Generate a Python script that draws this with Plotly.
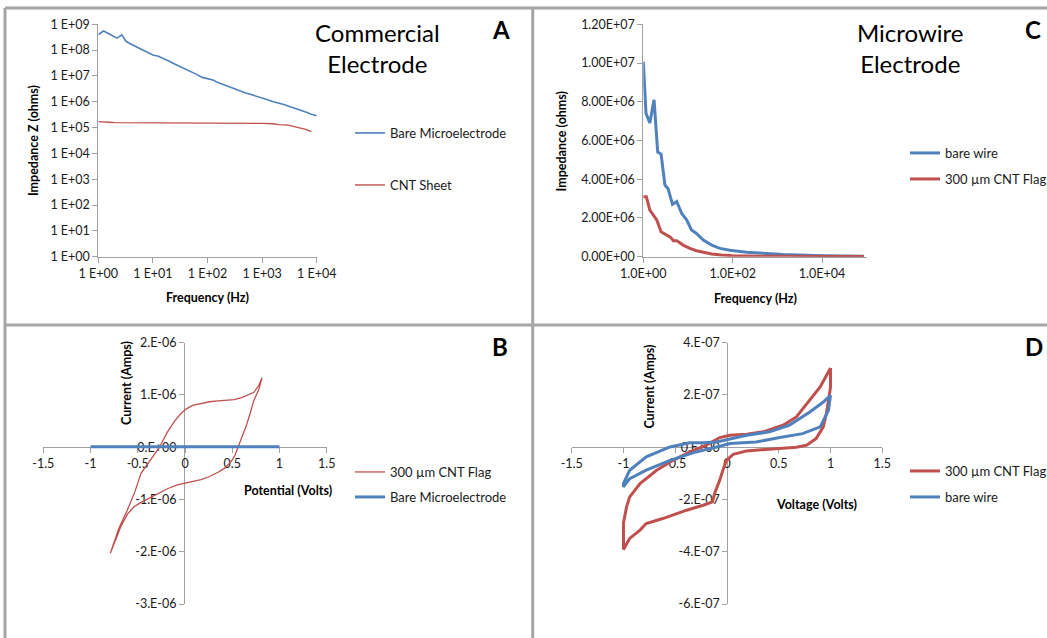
import plotly.graph_objects as go

W, H = 1047, 638
FONT = "Lato"
BLUE = "#4F81BD"
RED = "#C0504D"
AXC = "#A0A0A0"

def px(x):
    return x / W

def py(y):
    return 1 - y / H

# ---------------- Panel A data (Commercial electrode impedance) -------------
a_bare_freq = [1.0, 1.25, 1.6, 2.0, 2.2, 2.7, 3.2, 4.0, 5.0, 6.3, 8.0, 10, 12.6, 16, 20, 25, 32,
               40, 50, 63, 80, 100, 126, 160, 200, 250, 316, 400, 500, 630, 800, 1000, 1260,
               1600, 2000, 2500, 3160, 4000, 5000, 6300, 8000, 10000]
a_bare_z = [4.0e8, 5.5e8, 4.2e8, 3.3e8, 2.9e8, 3.9e8, 2.2e8, 1.7e8, 1.35e8, 1.1e8, 8.5e7, 6.5e7,
            5.8e7, 4.7e7, 3.7e7, 2.9e7, 2.3e7, 1.8e7, 1.45e7, 1.15e7, 8.8e6, 7.6e6, 7.0e6, 5.4e6,
            4.5e6, 3.7e6, 3.2e6, 2.7e6, 2.2e6, 1.9e6, 1.65e6, 1.4e6, 1.2e6, 1.0e6, 9.0e5, 7.8e5,
            6.5e5, 5.6e5, 4.8e5, 4.0e5, 3.3e5, 2.9e5]
a_cnt_freq = [1.0, 1.26, 1.6, 2.0, 3.0, 10, 100, 300, 500, 1000, 1600, 2000, 3000, 4000, 5000,
              6300, 8000]
a_cnt_z = [1.7e5, 1.7e5, 1.6e5, 1.55e5, 1.55e5, 1.55e5, 1.55e5, 1.55e5, 1.45e5, 1.45e5, 1.4e5,
           1.3e5, 1.25e5, 1.1e5, 1.0e5, 8.5e4, 7.0e4]
a_xticks = [1, 10, 100, 1000, 10000]
a_xtext = ["1 E+00", "1 E+01", "1 E+02", "1 E+03", "1 E+04"]
a_yticks = [1e0, 1e1, 1e2, 1e3, 1e4, 1e5, 1e6, 1e7, 1e8, 1e9]
a_ytext = ["1 E+00", "1 E+01", "1 E+02", "1 E+03", "1 E+04", "1 E+05", "1 E+06", "1 E+07",
           "1 E+08", "1 E+09"]

# ---------------- Panel C data (Microwire electrode impedance) --------------
c_bare_freq = [1.0, 1.15, 1.4, 1.74, 2.1, 2.5, 3.05, 3.6, 4.5, 5.6, 7.2, 9.3, 12, 15.5, 22, 34,
               52, 87, 204, 480, 1340, 10000, 87000]
c_bare_z = [10.07e6, 7.4e6, 6.9e6, 8.1e6, 5.4e6, 5.3e6, 3.7e6, 3.5e6, 2.7e6, 2.85e6, 2.24e6,
            1.9e6, 1.38e6, 1.2e6, 0.86e6, 0.6e6, 0.43e6, 0.33e6, 0.23e6, 0.17e6, 0.12e6, 0.05e6,
            0.02e6]
c_cnt_freq = [1.0, 1.17, 1.4, 2.0, 2.5, 3.3, 4.1, 4.7, 5.6, 7.8, 11, 15.5, 22, 34, 56, 100, 480,
              10000, 87000]
c_cnt_z = [3.1e6, 3.1e6, 2.4e6, 1.9e6, 1.29e6, 1.12e6, 1.0e6, 0.83e6, 0.83e6, 0.6e6, 0.43e6,
           0.31e6, 0.23e6, 0.14e6, 0.09e6, 0.05e6, 0.02e6, 0.01e6, 0.01e6]
c_xticks = [1, 100, 10000]
c_xtext = ["1.0E+00", "1.0E+02", "1.0E+04"]
c_yticks = [0, 2e6, 4e6, 6e6, 8e6, 10e6, 12e6]
c_ytext = ["0.00E+00", "2.00E+06", "4.00E+06", "6.00E+06", "8.00E+06", "1.00E+07", "1.20E+07"]

# ---------------- Panel B data (Commercial electrode CV) --------------------
b_cnt_v = [-0.79, -0.75, -0.70, -0.61, -0.53, -0.466, -0.37, -0.27, -0.19, -0.11, -0.05, 0.01,
           0.08, 0.17, 0.26, 0.35, 0.45, 0.52, 0.60, 0.66, 0.73, 0.78, 0.815,
           0.78, 0.73, 0.69, 0.645, 0.60, 0.565, 0.53, 0.49, 0.42, 0.35, 0.26, 0.17, 0.08, 0.01,
           -0.08, -0.18, -0.28, -0.39, -0.47, -0.54, -0.61, -0.68, -0.74, -0.79]
b_cnt_i = [-2.03e-6, -1.80e-6, -1.55e-6, -1.20e-6, -0.85e-6, -0.50e-6, -0.25e-6, 0.0, 0.28e-6,
           0.50e-6, 0.63e-6, 0.73e-6, 0.80e-6, 0.84e-6, 0.87e-6, 0.885e-6, 0.90e-6, 0.91e-6,
           0.95e-6, 0.99e-6, 1.05e-6, 1.18e-6, 1.33e-6,
           1.10e-6, 0.90e-6, 0.65e-6, 0.39e-6, 0.18e-6, 0.0, -0.15e-6, -0.27e-6, -0.40e-6,
           -0.48e-6, -0.56e-6, -0.62e-6, -0.66e-6, -0.69e-6, -0.72e-6, -0.79e-6, -0.88e-6,
           -0.98e-6, -1.06e-6, -1.14e-6, -1.28e-6, -1.52e-6, -1.78e-6, -2.03e-6]
b_bare_v = [-1.0, -0.5, 0.0, 0.5, 1.0]
b_bare_i = [0.01e-6, 0.01e-6, 0.01e-6, 0.01e-6, 0.01e-6]
b_xticks = [-1.5, -1, -0.5, 0, 0.5, 1, 1.5]
b_xtext = ["-1.5", "-1", "-0.5", "0", "0.5", "1", "1.5"]
b_yticks = [2e-6, 1e-6, 0, -1e-6, -2e-6, -3e-6]
b_ytext = ["2.E-06", "1.E-06", "0.E+00", "-1.E-06", "-2.E-06", "-3.E-06"]

# ---------------- Panel D data (Microwire electrode CV) ---------------------
d_cnt_v = [1.0, 1.0, 0.96, 0.93, 0.86, 0.77, 0.67, 0.35, 0.19, 0.06, -0.006, -0.04, -0.07, -0.12,
           -0.14, -0.23, -0.39, -0.62, -0.78, -0.84, -0.88, -0.94, -1.0, -1.0,
           -0.97, -0.94, -0.84, -0.68, -0.52, -0.36, -0.2, -0.07, 0.03, 0.19, 0.35, 0.54, 0.67,
           0.8, 0.9, 1.0]
d_cnt_i = [3.03e-7, 2.3e-7, 1.29e-7, 0.78e-7, 0.33e-7, 0.08e-7, 0.0, -0.09e-7, -0.14e-7,
           -0.27e-7, -0.5e-7, -0.88e-7, -1.26e-7, -1.77e-7, -2.09e-7, -2.22e-7, -2.41e-7,
           -2.73e-7, -2.92e-7, -3.17e-7, -3.3e-7, -3.49e-7, -3.91e-7, -2.9e-7,
           -2.28e-7, -1.9e-7, -1.39e-7, -0.88e-7, -0.5e-7, -0.18e-7, 0.08e-7, 0.37e-7, 0.46e-7,
           0.5e-7, 0.59e-7, 0.84e-7, 1.16e-7, 1.8e-7, 2.31e-7, 3.03e-7]
d_bare_v = [1.0, 0.98, 0.9, 0.73, 0.51, 0.28, 0.15, 0.03, -0.1, -0.3, -0.55, -0.78, -0.94, -1.0,
            -1.0, -0.94, -0.78, -0.55, -0.36, -0.23, -0.1, 0.03, 0.19, 0.41, 0.6, 0.8, 0.93, 1.0]
d_bare_i = [1.99e-7, 1.41e-7, 0.78e-7, 0.52e-7, 0.37e-7, 0.2e-7, 0.17e-7, 0.14e-7, 0.01e-7,
            -0.18e-7, -0.5e-7, -0.88e-7, -1.2e-7, -1.52e-7,
            -1.39e-7, -0.88e-7, -0.37e-7, 0.01e-7, 0.17e-7, 0.17e-7, 0.2e-7, 0.33e-7, 0.46e-7,
            0.59e-7, 0.84e-7, 1.35e-7, 1.73e-7, 1.99e-7]
d_xticks = [-1.5, -1, -0.5, 0, 0.5, 1, 1.5]
d_xtext = ["-1.5", "-1", "-0.5", "0", "0.5", "1", "1.5"]
d_yticks = [4e-7, 2e-7, 0, -2e-7, -4e-7, -6e-7]
d_ytext = ["4.E-07", "2.E-07", "0.E+00", "-2.E-07", "-4.E-07", "-6.E-07"]

fig = go.Figure()

def line(x, y, name, color, width, xa, ya, legend):
    fig.add_trace(go.Scatter(x=x, y=y, name=name, mode="lines", showlegend=True,
                             line=dict(color=color, width=width),
                             xaxis=xa, yaxis=ya, legend=legend))

line(a_bare_freq, a_bare_z, "Bare Microelectrode", BLUE, 1.6, "x", "y", "legend")
line(a_cnt_freq, a_cnt_z, "CNT Sheet", RED, 1.4, "x", "y", "legend2")
line(c_bare_freq, c_bare_z, "bare wire", BLUE, 3, "x2", "y2", "legend3")
line(c_cnt_freq, c_cnt_z, "300 µm CNT Flag", RED, 3, "x2", "y2", "legend4")
line(b_cnt_v, b_cnt_i, "300 µm CNT Flag", RED, 1.3, "x3", "y3", "legend5")
line(b_bare_v, b_bare_i, "Bare Microelectrode", BLUE, 3, "x3", "y3", "legend6")
line(d_cnt_v, d_cnt_i, "300 µm CNT Flag", RED, 3, "x4", "y4", "legend7")
line(d_bare_v, d_bare_i, "bare wire", BLUE, 3, "x4", "y4", "legend8")

tickfont = dict(family=FONT, size=12.5, color="#1a1a1a")
common = dict(showgrid=False, zeroline=False, showline=True, linecolor=AXC, linewidth=1,
              ticks="outside", ticklen=5, tickcolor=AXC, tickfont=tickfont, tickangle=0,
              automargin=False, layer="below traces")

layout = dict(
    template="none",
    width=W, height=H, autosize=False, showlegend=True,
    margin=dict(l=0, r=0, t=0, b=0, pad=0, autoexpand=False),
    paper_bgcolor="white", plot_bgcolor="rgba(0,0,0,0)",
    font=dict(family=FONT, size=12, color="black"),
    # Panel A
    xaxis=dict(common, type="log", domain=[px(98.3), px(316.7)], range=[0, 4], anchor="y",
               tickvals=a_xticks, ticktext=a_xtext),
    yaxis=dict(common, type="log", domain=[py(256.7), py(24.3)], range=[0, 9], anchor="x",
               tickvals=a_yticks, ticktext=a_ytext),
    # Panel C
    xaxis2=dict(common, type="log", domain=[px(643.3), px(866.7)], range=[0, 5], anchor="y2",
                tickvals=c_xticks, ticktext=c_xtext),
    yaxis2=dict(common, domain=[py(256.7), py(24.3)], range=[0, 1.2e7], anchor="x2",
                tickvals=c_yticks, ticktext=c_ytext),
    # Panel B
    xaxis3=dict(common, domain=[px(43.3), px(326.7)], range=[-1.5, 1.5], anchor="free",
                position=py(447), tickvals=b_xticks, ticktext=b_xtext),
    yaxis3=dict(common, domain=[py(604), py(342.7)], range=[-3e-6, 2e-6], anchor="free",
                position=px(184), tickvals=b_yticks, ticktext=b_ytext),
    # Panel D
    xaxis4=dict(common, domain=[px(571.7), px(882.3)], range=[-1.5, 1.5], anchor="free",
                position=py(447), tickvals=d_xticks, ticktext=d_xtext),
    yaxis4=dict(common, domain=[py(604), py(342.7)], range=[-6e-7, 4e-7], anchor="free",
                position=px(727.3), tickvals=d_yticks, ticktext=d_ytext),
)

leg_font = dict(family=FONT, size=13, color="#1a1a1a")
leg_pos = {"legend": (350, 133), "legend2": (350, 185), "legend3": (905, 153),
           "legend4": (905, 179), "legend5": (350, 472), "legend6": (350, 497),
           "legend7": (905, 471), "legend8": (905, 497)}
for k, (lx, ly) in leg_pos.items():
    layout[k] = dict(x=px(lx), y=py(ly), xanchor="left", yanchor="middle",
                     bgcolor="rgba(0,0,0,0)", borderwidth=0, font=leg_font,
                     itemwidth=30, tracegroupgap=0, visible=True)
fig.update_layout(**layout)

# panel frame lines
frame = dict(type="line", xref="paper", yref="paper", line=dict(color="#A6A6A6", width=3))
fig.add_shape(frame, x0=px(5), x1=px(5), y0=0, y1=py(8))
fig.add_shape(frame, x0=px(5), x1=1, y0=py(8), y1=py(8))
fig.add_shape(frame, x0=px(532.7), x1=px(532.7), y0=0, y1=py(8))
fig.add_shape(frame, x0=px(5), x1=1, y0=py(325), y1=py(325))

def ann(text, x, y, size, bold=False, angle=0):
    fig.add_annotation(text=f"<b>{text}</b>" if bold else text, x=px(x), y=py(y),
                       xref="paper", yref="paper", showarrow=False, textangle=angle,
                       xanchor="center", yanchor="middle",
                       font=dict(family=FONT, size=size, color="black"))

# titles and panel letters
ann("Commercial<br>Electrode", 377.5, 48.3, 24)
ann("Microwire<br>Electrode", 910.5, 48.3, 24)
ann("A", 501.3, 29.3, 24, bold=True)
ann("C", 1032.5, 29.3, 24, bold=True)
ann("B", 500.3, 346.7, 24, bold=True)
ann("D", 1033.5, 346.7, 24, bold=True)

# axis titles
ann("Impedance Z (ohms)", 33, 141, 12.5, bold=True, angle=-90)
ann("Frequency (Hz)", 207.5, 297.7, 12.5, bold=True)
ann("Impedance (ohms)", 561.7, 141.7, 12.5, bold=True, angle=-90)
ann("Frequency (Hz)", 755.3, 298, 12.5, bold=True)
ann("Current (Amps)", 126.7, 383.3, 12.5, bold=True, angle=-90)
ann("Potential (Volts)", 288.3, 490, 12.5, bold=True)
ann("Current (Amps)", 649.3, 386.3, 12.5, bold=True, angle=-90)
ann("Voltage (Volts)", 816.3, 504, 12.5, bold=True)

fig.write_html("out.html", config={"displayModeBar": False},
               post_script="document.body.style.margin='0';document.body.style.overflow='hidden';")
